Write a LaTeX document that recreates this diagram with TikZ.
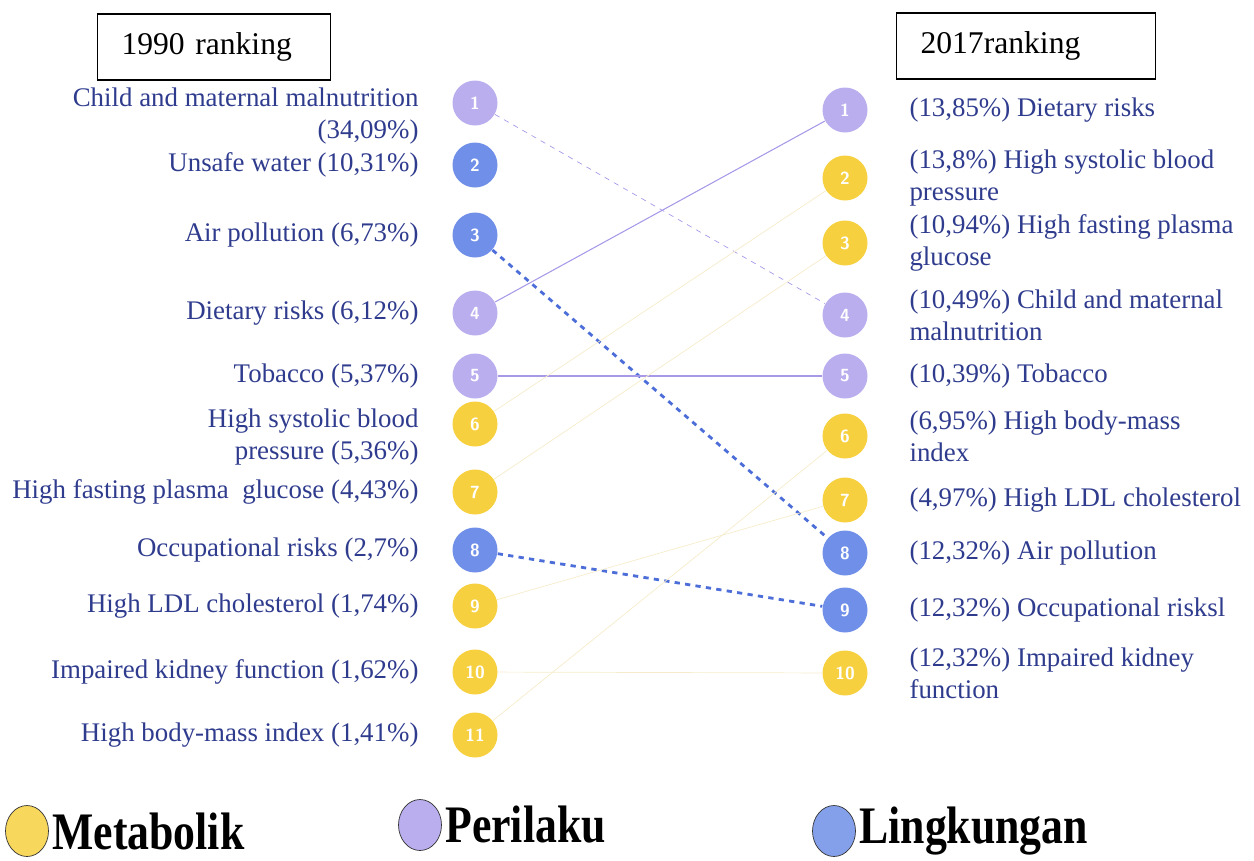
\documentclass[tikz,border=0pt]{standalone}
\usepackage{fontspec}
\setmainfont{Liberation Serif}
\usepackage{tikz}
\usetikzlibrary{positioning}
\usetikzlibrary{shapes.geometric}
\definecolor{metab}{HTML}{F6D03F}
\definecolor{peri}{HTML}{BBAEEE}
\definecolor{lingk}{HTML}{6F8FE8}
\definecolor{labelblue}{HTML}{2F3C8E}
\definecolor{periline}{HTML}{A898E8}
\definecolor{lingline}{HTML}{4D6ED8}
\definecolor{metabline}{HTML}{F6ECCB}
\tikzset{rank node/.style={circle,draw=none,minimum size=0.9cm,inner sep=0pt,text=white,font=\sffamily\bfseries\fontsize{10}{12}\selectfont},
  left label/.style={text=labelblue,inner sep=0pt,align=right,font=\fontsize{15.3}{18}\selectfont},
  right label/.style={text=labelblue,inner sep=0pt,align=left,font=\fontsize{15.3}{18}\selectfont},
  head box/.style={draw,thick,inner xsep=0.48cm,minimum height=1.32cm,align=left,font=\fontsize{18}{22}\selectfont},
  legend dot/.style={ellipse,draw=black!80,thin,minimum width=0.86cm,minimum height=1.02cm,inner sep=0pt},
  legend text/.style={inner sep=0pt,font=\bfseries\fontsize{30}{34}\selectfont},}

\begin{document}
\begin{tikzpicture}[x=0.02cm, y=-0.02cm, semithick]
	\useasboundingbox (0,0) rectangle (1254,860);
	% headers
	\node[head box, text width=3.7cm] (h1) at (214,47) {1990 ranking};
	\node[head box, text width=4.22cm] (h2) at (1026,46) {2017ranking};

	% 1990 ranks
	\node[rank node, fill=peri] (l1) at (475,103) {1};
	\node[rank node, fill=lingk] (l2) at (475,165) {2};
	\node[rank node, fill=lingk] (l3) at (475,235) {3};
	\node[rank node, fill=peri] (l4) at (475,313) {4};
	\node[rank node, fill=peri] (l5) at (475,376) {5};
	\node[rank node, fill=metab] (l6) at (475,424) {6};
	\node[rank node, fill=metab] (l7) at (475,492) {7};
	\node[rank node, fill=lingk] (l8) at (475,550) {8};
	\node[rank node, fill=metab] (l9) at (475,606) {9};
	\node[rank node, fill=metab] (l10) at (475,672) {10};
	\node[rank node, fill=metab] (l11) at (475,735) {11};

	\node[left label, left=0.66cm of l1, yshift=-0.26cm] (t1) {Child and maternal malnutrition\\(34,09\%)};
	\node[left label, left=0.66cm of l2] (t2) {Unsafe water (10,31\%)};
	\node[left label, left=0.66cm of l3] (t3) {Air pollution (6,73\%)};
	\node[left label, left=0.66cm of l4] (t4) {Dietary risks (6,12\%)};
	\node[left label, left=0.66cm of l5] (t5) {Tobacco (5,37\%)};
	\node[left label, left=0.66cm of l6, yshift=-0.26cm] (t6) {High systolic blood\\pressure (5,36\%)};
	\node[left label, left=0.66cm of l7] (t7) {High fasting plasma\ \ glucose (4,43\%)};
	\node[left label, left=0.66cm of l8] (t8) {Occupational risks (2,7\%)};
	\node[left label, left=0.66cm of l9] (t9) {High LDL cholesterol (1,74\%)};
	\node[left label, left=0.66cm of l10] (t10) {Impaired kidney function (1,62\%)};
	\node[left label, left=0.66cm of l11] (t11) {High body-mass index (1,41\%)};

	% 2017 ranks
	\node[rank node, fill=peri] (r1) at (845,110) {1};
	\node[rank node, fill=metab] (r2) at (845,178) {2};
	\node[rank node, fill=metab] (r3) at (845,243) {3};
	\node[rank node, fill=peri] (r4) at (845,315) {4};
	\node[rank node, fill=peri] (r5) at (845,376) {5};
	\node[rank node, fill=metab] (r6) at (845,436) {6};
	\node[rank node, fill=metab] (r7) at (845,500) {7};
	\node[rank node, fill=lingk] (r8) at (845,553) {8};
	\node[rank node, fill=lingk] (r9) at (845,610) {9};
	\node[rank node, fill=metab] (r10) at (845,673) {10};

	\node[right label, right=0.82cm of r1] (s1) {(13,85\%) Dietary risks};
	\node[right label, right=0.82cm of r2] (s2) {(13,8\%) High systolic blood\\pressure};
	\node[right label, right=0.82cm of r3] (s3) {(10,94\%) High fasting plasma\\glucose};
	\node[right label, right=0.82cm of r4] (s4) {(10,49\%) Child and maternal\\malnutrition};
	\node[right label, right=0.82cm of r5] (s5) {(10,39\%) Tobacco};
	\node[right label, right=0.82cm of r6] (s6) {(6,95\%) High body-mass\\index};
	\node[right label, right=0.82cm of r7] (s7) {(4,97\%) High LDL cholesterol};
	\node[right label, right=0.82cm of r8] (s8) {(12,32\%) Air pollution};
	\node[right label, right=0.82cm of r9] (s9) {(12,32\%) Occupational risksl};
	\node[right label, right=0.82cm of r10] (s10) {(12,32\%) Impaired kidney\\function};

	\path[draw]
	(l1) edge [periline, dashed, thin] (r4)
	(l3) edge [lingline, dashed, line width=1.6pt] (r8)
	(l4) edge [periline] (r1)
	(l5) edge [periline, thick] (r5)
	(l8) edge [lingline, dashed, line width=1.6pt] (r9)
	(l6) edge [metabline, thin] (r2)
	(l7) edge [metabline, thin] (r3)
	(l9) edge [metabline, thin] (r7)
	(l10) edge [metabline, thin] (r10)
	(l11) edge [metabline, thin] (r6);

	% legend
	\node[legend dot, fill=metab!85] (g1) at (27,831) {};
	\node[legend text, right=0.06cm of g1] (k1) {\scalebox{0.83}[1]{Metabolik}};
	\node[legend dot, fill=peri] (g2) at (420,825) {};
	\node[legend text, right=0.06cm of g2] (k2) {\scalebox{0.83}[1]{Perilaku}};
	\node[legend dot, fill=lingk!85] (g3) at (834,831) {};
	\node[legend text, right=0.06cm of g3] (k3) {\scalebox{0.83}[1]{Lingkungan}};
\end{tikzpicture}
\end{document}
